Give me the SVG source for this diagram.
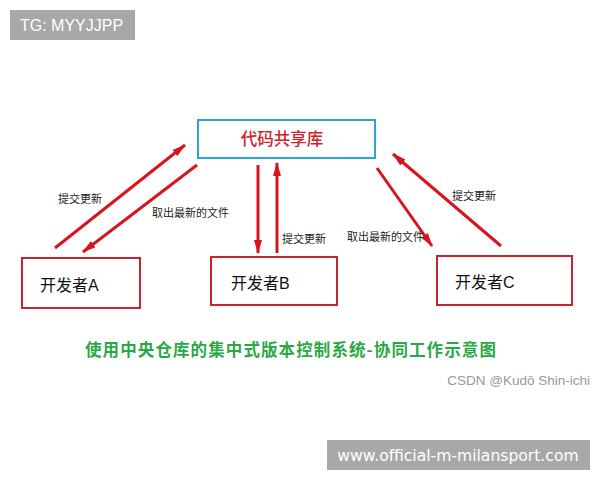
<svg xmlns="http://www.w3.org/2000/svg" width="600" height="480" viewBox="0 0 600 480">
<defs>
<marker id="ah" viewBox="0 0 14 8" refX="13" refY="4" markerWidth="14" markerHeight="8" markerUnits="userSpaceOnUse" orient="auto">
<path d="M0,0 L14,4 L0,8 Z" fill="#d9141e"/>
</marker>
<style>
.node{fill:#fff;stroke:#c8232f;stroke-width:2}
.repo{fill:#fff;stroke:#2aa7cf;stroke-width:2}
.nt{font-family:"Liberation Sans","Noto Sans CJK SC",sans-serif;font-size:16px;fill:#111}
.lbl{font-family:"Noto Sans CJK SC",sans-serif;font-size:11px;fill:#222}
.arr{stroke:#d9141e;stroke-width:3;fill:none;marker-end:url(#ah)}
</style>
</defs>
<rect width="600" height="480" fill="#fff"/>
<g id="tg">
<rect x="10" y="10" width="125" height="30" fill="#a8a8a8"/>
<text x="20" y="31" font-family="Liberation Sans,sans-serif" font-size="16" fill="#fff">TG: MYYJJPP</text>
</g>
<g id="repo">
<rect class="repo" x="198" y="120" width="177" height="38"/>
<text x="282" y="145" text-anchor="middle" font-family="Noto Sans CJK SC,sans-serif" font-size="16.5" font-weight="500" fill="#d0202a">代码共享库</text>
</g>
<g id="devA">
<rect class="node" x="22" y="258" width="118" height="50"/>
<text class="nt" x="40" y="291">开发者A</text>
</g>
<g id="devB">
<rect class="node" x="211" y="257" width="126" height="48"/>
<text class="nt" x="231" y="289">开发者B</text>
</g>
<g id="devC">
<rect class="node" x="437" y="256" width="135" height="49"/>
<text class="nt" x="455" y="288">开发者C</text>
</g>
<g id="connectors">
<line class="arr" x1="55" y1="248" x2="185" y2="145"/>
<line class="arr" x1="197" y1="165" x2="83" y2="252"/>
<line class="arr" x1="258" y1="165" x2="258" y2="253"/>
<line class="arr" x1="277" y1="253" x2="277" y2="163"/>
<line class="arr" x1="377" y1="168" x2="432" y2="246"/>
<line class="arr" x1="501" y1="246" x2="393" y2="154"/>
<text class="lbl" x="58" y="203">提交更新</text>
<text class="lbl" x="152" y="217">取出最新的文件</text>
<text class="lbl" x="282" y="243">提交更新</text>
<text class="lbl" x="452" y="200">提交更新</text>
<text class="lbl" x="347" y="241">取出最新的文件</text>
</g>
<text x="85" y="356" font-family="Noto Sans CJK SC,sans-serif" font-size="16.5" font-weight="bold" fill="#2aa845" letter-spacing="1.1">使用中央仓库的集中式版本控制系统-协同工作示意图</text>
<text x="590" y="385" text-anchor="end" font-family="Liberation Sans,sans-serif" font-size="13.5" fill="#999">CSDN @Kudō Shin-ichi</text>
<g id="banner">
<rect x="327" y="440" width="263" height="30" fill="#a8a8a8"/>
<text x="458" y="461" text-anchor="middle" font-family="DejaVu Sans,sans-serif" font-size="15.6" fill="#fff">www.official-m-milansport.com</text>
</g>
</svg>
